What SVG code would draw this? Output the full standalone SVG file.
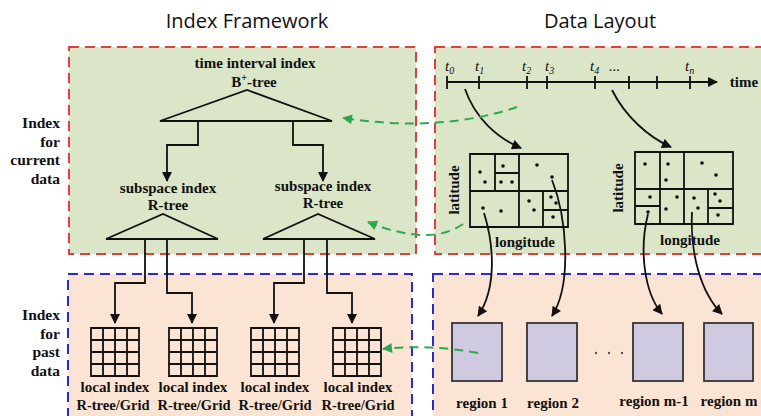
<svg xmlns="http://www.w3.org/2000/svg" width="761" height="416" viewBox="0 0 761 416">
<defs>
<style>
.title{font-family:"Open Sans","Noto Sans",sans-serif;font-size:20px;fill:#111;text-anchor:middle}
.lbl{font-family:"Liberation Serif","Times New Roman",serif;font-size:15px;font-weight:bold;fill:#111;text-anchor:middle}
.sm{font-size:14.5px}
.side{font-family:"Liberation Serif","Times New Roman",serif;font-size:15.5px;font-weight:bold;fill:#111;text-anchor:end}
.t{font-family:"Liberation Serif","Times New Roman",serif;font-size:15px;font-style:italic;fill:#111}
.ln{fill:none;stroke:#111;stroke-width:1.8}
.arr{fill:none;stroke:#111;stroke-width:1.8;marker-end:url(#ab)}
.garr{fill:none;stroke:#2ea84e;stroke-width:2;stroke-dasharray:9,6;marker-end:url(#ag)}
.grid{fill:none;stroke:#111;stroke-width:1.8}
.map{fill:none;stroke:#111;stroke-width:1.8}
.reg{fill:#cfcae0;stroke:#333;stroke-width:1.8}
.dot{fill:#111}
</style>
<marker id="ab" viewBox="0 0 10 10" refX="9" refY="5" markerWidth="12" markerHeight="10" orient="auto" markerUnits="userSpaceOnUse">
<path d="M0,0 L10,5 L0,10 z" fill="#111"/>
</marker>
<marker id="ag" viewBox="0 0 10 10" refX="9" refY="5" markerWidth="13" markerHeight="10" orient="auto" markerUnits="userSpaceOnUse">
<path d="M0,0 L10,5 L0,10 z" fill="#2ea84e"/>
</marker>
</defs>

<g id="panels">
<rect x="69" y="47" width="347" height="207" fill="#dbe5c8" stroke="#e0403c" stroke-width="2" stroke-dasharray="10,6"/>
<rect x="435" y="47" width="340" height="207" fill="#dbe5c8" stroke="#e0403c" stroke-width="2" stroke-dasharray="10,6"/>
<rect x="68" y="274" width="344" height="160" fill="#fbe4d4" stroke="#2b2bc8" stroke-width="2" stroke-dasharray="10,6"/>
<rect x="433" y="274" width="340" height="160" fill="#fbe4d4" stroke="#2b2bc8" stroke-width="2" stroke-dasharray="10,6"/>
</g>

<g id="titles">
<text class="title" x="247" y="28">Index Framework</text>
<text class="title" x="600" y="28">Data Layout</text>
</g>

<g id="side-current">
<text class="side" x="60" y="128">Index</text>
<text class="side" x="60" y="147">for</text>
<text class="side" x="60" y="165">current</text>
<text class="side" x="60" y="184">data</text>
</g>
<g id="side-past">
<text class="side" x="60" y="320">Index</text>
<text class="side" x="60" y="339">for</text>
<text class="side" x="60" y="357">past</text>
<text class="side" x="60" y="376">data</text>
</g>

<g id="time-interval-index">
<text class="lbl" x="255" y="68">time interval index</text>
<text class="lbl" x="254" y="87">B<tspan font-size="10" dy="-6">+</tspan><tspan dy="6">-tree</tspan></text>
<path class="ln" d="M160,121 L247,90 L332,121 Z"/>
</g>

<g id="subspace-index-1">
<text class="lbl" x="168" y="193">subspace index</text>
<text class="lbl" x="168" y="210">R-tree</text>
<path class="ln" d="M106,239 L163,214 L218,239 Z"/>
</g>
<g id="subspace-index-2">
<text class="lbl" x="323" y="191">subspace index</text>
<text class="lbl" x="323" y="208">R-tree</text>
<path class="ln" d="M263,239 L318,214 L375,239 Z"/>
</g>

<g id="local-index-1">
<path class="grid" d="M91,328h48v48h-48z M103,328v48 M115,328v48 M127,328v48 M91,340h48 M91,352h48 M91,364h48"/>
<text class="lbl" x="115" y="392">local index</text>
<text class="lbl sm" x="113" y="410">R-tree/Grid</text>
</g>
<g id="local-index-2">
<path class="grid" d="M169,328h48v48h-48z M181,328v48 M193,328v48 M205,328v48 M169,340h48 M169,352h48 M169,364h48"/>
<text class="lbl" x="193" y="392">local index</text>
<text class="lbl sm" x="194" y="410">R-tree/Grid</text>
</g>
<g id="local-index-3">
<path class="grid" d="M251,328h48v48h-48z M263,328v48 M275,328v48 M287,328v48 M251,340h48 M251,352h48 M251,364h48"/>
<text class="lbl" x="275" y="392">local index</text>
<text class="lbl sm" x="275" y="410">R-tree/Grid</text>
</g>
<g id="local-index-4">
<path class="grid" d="M333,328h48v48h-48z M345,328v48 M357,328v48 M369,328v48 M333,340h48 M333,352h48 M333,364h48"/>
<text class="lbl" x="358" y="392">local index</text>
<text class="lbl sm" x="358" y="410">R-tree/Grid</text>
</g>

<g id="time-axis">
<path class="arr" d="M447,82 H717"/>
<path class="ln" d="M447,76v13 M479,76v13 M527,76v13 M547,76v13 M595,76v13 M629,76v13 M657,76v13 M690,76v13"/>
<text class="t" x="445" y="71">t<tspan font-size="10" dy="3">0</tspan></text>
<text class="t" x="475" y="71">t<tspan font-size="10" dy="3">1</tspan></text>
<text class="t" x="522" y="71">t<tspan font-size="10" dy="3">2</tspan></text>
<text class="t" x="545" y="71">t<tspan font-size="10" dy="3">3</tspan></text>
<text class="t" x="590" y="71">t<tspan font-size="10" dy="3">4</tspan></text>
<text class="t" x="609" y="71">...</text>
<text class="t" x="685" y="71">t<tspan font-size="10" dy="3">n</tspan></text>
<text class="lbl" x="744" y="87">time</text>
</g>

<g id="map-1">
<path class="map" d="M470,154h98v73h-98z M495,154v37 M519,154v73 M470,191h98 M495,173h24 M543,191v36 M543,210h25"/>
<circle class="dot" cx="480" cy="172" r="1.8"/>
<circle class="dot" cx="485" cy="182" r="1.8"/>
<circle class="dot" cx="503" cy="166" r="1.8"/>
<circle class="dot" cx="501" cy="182" r="1.8"/>
<circle class="dot" cx="512" cy="182" r="1.8"/>
<circle class="dot" cx="537" cy="165" r="1.8"/>
<circle class="dot" cx="552" cy="177" r="1.8"/>
<circle class="dot" cx="483" cy="208" r="1.8"/>
<circle class="dot" cx="501" cy="211" r="1.8"/>
<circle class="dot" cx="529" cy="201" r="1.8"/>
<circle class="dot" cx="534" cy="210" r="1.8"/>
<circle class="dot" cx="551" cy="197" r="1.8"/>
<circle class="dot" cx="556" cy="203" r="1.8"/>
<circle class="dot" cx="553" cy="217" r="1.8"/>
<text class="lbl" transform="translate(459,190) rotate(-90)" x="0" y="0">latitude</text>
<text class="lbl" x="525" y="247">longitude</text>
</g>

<g id="map-2">
<path class="map" d="M635,152h98v72h-98z M660,152v72 M684,152v72 M635,189h98 M635,206h25 M708,189v35 M708,208h25"/>
<circle class="dot" cx="645" cy="164" r="1.8"/>
<circle class="dot" cx="668" cy="164" r="1.8"/>
<circle class="dot" cx="666" cy="180" r="1.8"/>
<circle class="dot" cx="702" cy="163" r="1.8"/>
<circle class="dot" cx="716" cy="175" r="1.8"/>
<circle class="dot" cx="650" cy="197" r="1.8"/>
<circle class="dot" cx="648" cy="212" r="1.8"/>
<circle class="dot" cx="677" cy="197" r="1.8"/>
<circle class="dot" cx="666" cy="209" r="1.8"/>
<circle class="dot" cx="694" cy="198" r="1.8"/>
<circle class="dot" cx="698" cy="208" r="1.8"/>
<circle class="dot" cx="715" cy="194" r="1.8"/>
<circle class="dot" cx="720" cy="201" r="1.8"/>
<circle class="dot" cx="718" cy="215" r="1.8"/>
<text class="lbl" transform="translate(623,188) rotate(-90)" x="0" y="0">latitude</text>
<text class="lbl" x="690" y="245">longitude</text>
</g>

<g id="region-1">
<rect class="reg" x="452" y="323" width="50" height="58"/>
<text class="lbl" x="482" y="408">region 1</text>
</g>
<g id="region-2">
<rect class="reg" x="527" y="323" width="50" height="58"/>
<text class="lbl" x="553" y="408">region 2</text>
</g>
<g id="region-ellipsis">
<circle cx="596" cy="353" r="1.2" fill="#555"/>
<circle cx="609" cy="353" r="1.2" fill="#555"/>
<circle cx="622" cy="353" r="1.2" fill="#555"/>
</g>
<g id="region-m-1">
<rect class="reg" x="633" y="323" width="50" height="58"/>
<text class="lbl" x="654" y="406">region m-1</text>
</g>
<g id="region-m">
<rect class="reg" x="704" y="323" width="49" height="58"/>
<text class="lbl" x="729" y="406">region m</text>
</g>

<g id="connectors">
<path class="arr" d="M198,121 V145 H167 V181"/>
<path class="arr" d="M293,121 V145 H323 V181"/>
<path class="arr" d="M145,239 V283 H115 V323"/>
<path class="arr" d="M167,239 V293 H192 V323"/>
<path class="arr" d="M304,239 V283 H274 V323"/>
<path class="arr" d="M327,239 V293 H352 V323"/>
<path class="arr" d="M465,89 C475,118 497,138 521,148"/>
<path class="arr" d="M612,90 C625,116 648,137 671,147"/>
<path class="arr" d="M484,213 C494,245 497,288 478,316"/>
<path class="arr" d="M552,180 C566,215 573,283 552,316"/>
<path class="arr" d="M648,214 C639,250 644,292 662,314"/>
<path class="arr" d="M692,212 C690,252 700,292 722,314"/>
<path class="garr" d="M517,107 Q440,133 343,118"/>
<path class="garr" d="M463,224 Q430,247 368,222"/>
<path class="garr" d="M478,353 Q430,344 383,349"/>
</g>
</svg>
